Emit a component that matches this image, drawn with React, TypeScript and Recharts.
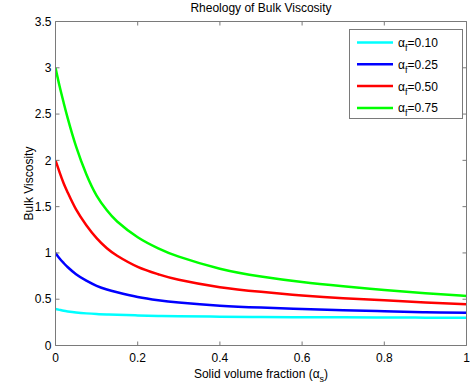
import React from 'react';
import { LineChart, Line, XAxis, YAxis, Label } from 'recharts';

const xValues = [0, 0.01, 0.02, 0.03, 0.05, 0.075, 0.1, 0.125, 0.15, 0.2, 0.25, 0.3, 0.4, 0.5, 0.6, 0.7, 0.8, 0.9, 1.0];
const af010 = [0.395, 0.385, 0.375, 0.368, 0.357, 0.347, 0.34, 0.335, 0.331, 0.325, 0.32, 0.316, 0.311, 0.308, 0.306, 0.304, 0.302, 0.301, 0.3];
const af025 = [1.0, 0.94, 0.89, 0.845, 0.77, 0.7, 0.645, 0.605, 0.575, 0.525, 0.49, 0.465, 0.43, 0.41, 0.395, 0.38, 0.37, 0.36, 0.355];
const af050 = [2.0, 1.87, 1.75, 1.65, 1.47, 1.3, 1.16, 1.05, 0.97, 0.85, 0.77, 0.71, 0.63, 0.58, 0.54, 0.51, 0.49, 0.465, 0.445];
const af075 = [3.0, 2.8, 2.62, 2.45, 2.15, 1.85, 1.62, 1.46, 1.34, 1.17, 1.05, 0.96, 0.83, 0.745, 0.685, 0.64, 0.6, 0.565, 0.535];

const xTicks = [0, 0.2, 0.4, 0.6, 0.8, 1];
const yTicks = [0, 0.5, 1, 1.5, 2, 2.5, 3, 3.5];

const seriesKeys = ['a010', 'a025', 'a050', 'a075'];
const seriesLabels = ['0.10', '0.25', '0.50', '0.75'];
const seriesColors = ['#00ffff', '#0000ff', '#ff0000', '#00ff00'];

const data = xValues.map((x, i) => ({
  x,
  a010: af010[i],
  a025: af025[i],
  a050: af050[i],
  a075: af075[i],
}));

const FONT = '"Liberation Sans", Arial, Helvetica, sans-serif';
const AXIS = '#7a7a7a';

const W = 473;
const H = 391;
const M = { top: 21.5, right: 6.5, left: 55.5, bottom: 45.5 };
const X_MIN = 0;
const X_MAX = 1;
const Y_MIN = 0;
const Y_MAX = 3.5;
const TICK_PX = 4;
const plotW = W - M.left - M.right;
const plotH = H - M.top - M.bottom;
const px = (v: number) => M.left + ((v - X_MIN) / (X_MAX - X_MIN)) * plotW;
const py = (v: number) => M.top + ((Y_MAX - v) / (Y_MAX - Y_MIN)) * plotH;

const LegendBox = () => (
  <svg width={114} height={90} style={{ display: 'block' }}>
    <rect x={0.5} y={0.5} width={113} height={89} fill="#fff" stroke={AXIS} strokeWidth={1} />
    {seriesKeys.map((k, i) => {
      const cy = 13.5 + i * 21.8;
      return (
        <g key={k}>
          <line x1={8} x2={44} y1={cy} y2={cy} stroke={seriesColors[i]} strokeWidth={2.5} />
          <text x={49} y={cy + 4.5} fontSize={12} fontFamily={FONT} fill="#000">
            α<tspan fontSize={9} dy={4}>f</tspan>
            <tspan dy={-4}>={seriesLabels[i]}</tspan>
          </text>
        </g>
      );
    })}
  </svg>
);

const XLabel = (props: any) => {
  const vb = props.viewBox || {};
  const cx = vb.x + vb.width / 2;
  const y = vb.y + 32;
  return (
    <text x={cx} y={y} textAnchor="middle" fontSize={12} fontFamily={FONT} fill="#000">
      Solid volume fraction (α<tspan fontSize={9} dy={4}>s</tspan>
      <tspan dy={-4}>)</tspan>
    </text>
  );
};

const YLabel = (props: any) => {
  const vb = props.viewBox || {};
  const cy = vb.y + vb.height / 2;
  const x = 33;
  return (
    <text
      x={x}
      y={cy}
      textAnchor="middle"
      fontSize={12}
      fontFamily={FONT}
      fill="#000"
      transform={`rotate(-90, ${x}, ${cy})`}
    >
      Bulk Viscosity
    </text>
  );
};

export default function App() {
  return (
    <div style={{ position: 'absolute', left: 0, top: 0, width: W, height: H, background: '#fff' }}>
      <LineChart
        width={W}
        height={H}
        data={data}
        margin={{ top: M.top, right: M.right, bottom: 0, left: 0 }}
      >
        <XAxis
          dataKey="x"
          type="number"
          domain={[X_MIN, X_MAX]}
          ticks={xTicks}
          allowDataOverflow
          height={M.bottom}
          stroke={AXIS}
          tickSize={-TICK_PX}
          tickMargin={12}
          tick={{ fill: '#000', fontSize: 12, fontFamily: FONT }}
        >
          <Label content={<XLabel />} />
        </XAxis>
        <YAxis
          type="number"
          domain={[Y_MIN, Y_MAX]}
          ticks={yTicks}
          allowDataOverflow
          width={M.left}
          stroke={AXIS}
          tickSize={-TICK_PX}
          tickMargin={8}
          tick={{ fill: '#000', fontSize: 12, fontFamily: FONT }}
        >
          <Label content={<YLabel />} />
        </YAxis>
        {seriesKeys.map((k, i) => (
          <Line
            key={k}
            type="natural"
            dataKey={k}
            name={`αf=${seriesLabels[i]}`}
            stroke={seriesColors[i]}
            strokeWidth={2.5}
            dot={false}
            activeDot={false}
            isAnimationActive={false}
          />
        ))}
      </LineChart>
      <svg
        width={W}
        height={H}
        style={{ position: 'absolute', left: 0, top: 0, pointerEvents: 'none' }}
      >
        <text x={M.left + plotW / 2} y={12} textAnchor="middle" fontSize={12} fontFamily={FONT} fill="#000">
          Rheology of Bulk Viscosity
        </text>
        <line x1={px(X_MIN)} x2={px(X_MAX)} y1={py(Y_MAX)} y2={py(Y_MAX)} stroke={AXIS} strokeWidth={1} />
        <line x1={px(X_MAX)} x2={px(X_MAX)} y1={py(Y_MAX)} y2={py(Y_MIN)} stroke={AXIS} strokeWidth={1} />
        {xTicks.map((t) => (
          <line key={`tx${t}`} x1={px(t)} x2={px(t)} y1={py(Y_MAX)} y2={py(Y_MAX) + TICK_PX} stroke={AXIS} strokeWidth={1} />
        ))}
        {yTicks.map((t) => (
          <line key={`ty${t}`} x1={px(X_MAX)} x2={px(X_MAX) - TICK_PX} y1={py(t)} y2={py(t)} stroke={AXIS} strokeWidth={1} />
        ))}
      </svg>
      <div style={{ position: 'absolute', left: 349, top: 29, width: 114, height: 90, pointerEvents: 'none' }}>
        <LegendBox />
      </div>
    </div>
  );
}
